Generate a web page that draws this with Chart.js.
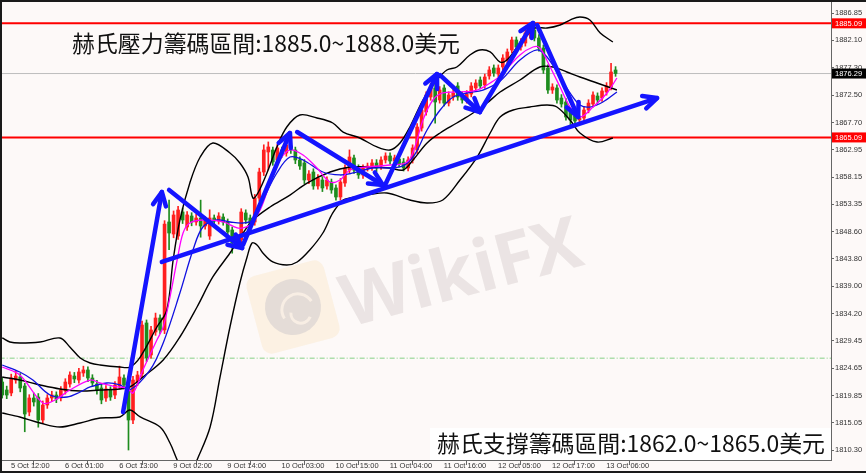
<!DOCTYPE html>
<html><head><meta charset="utf-8">
<script src="https://cdn.jsdelivr.net/npm/chart.js@4.4.1/dist/chart.umd.min.js"></script>
<style>
html,body{margin:0;padding:0;background:#fdf9f8;overflow:hidden;}
#wrap{position:relative;width:866px;height:473px;}
</style></head><body>
<div id="wrap"><canvas id="c"></canvas></div>
<script>
// ---------- data ----------
const xTickIdx = [1,13,25,37,49,61,73,85,97,109,121,133];
const xTickLabels = ['5 Oct 12:00','6 Oct 01:00','6 Oct 13:00','9 Oct 02:00','9 Oct 14:00','10 Oct 03:00','10 Oct 15:00','11 Oct 04:00','11 Oct 16:00','12 Oct 05:00','12 Oct 17:00','13 Oct 06:00'];
const yTickValues = [1886.85,1882.10,1877.30,1872.50,1867.70,1862.95,1858.15,1853.35,1848.60,1843.80,1839.00,1834.20,1829.45,1824.65,1819.85,1815.05,1810.30];

const candleOpen = [1822.22,1820.82,1820.30,1822.57,1823.10,1821.52,1816.96,1819.42,1819.59,1815.56,
1818.19,1819.42,1819.94,1819.42,1820.65,1821.87,1823.27,1822.57,1823.80,1824.33,
1822.92,1821.87,1821.17,1819.42,1820.82,1819.94,1821.52,1822.92,1821.70,1815.56,
1822.22,1823.63,1832.57,1826.96,1830.99,1833.44,1831.34,1850.27,1848.16,1847.81,
1852.02,1849.39,1851.32,1850.27,1850.97,1849.57,1847.81,1850.97,1850.44,1851.14,
1850.27,1848.87,1846.76,1847.11,1851.85,1850.97,1850.27,1854.47,1859.03,1862.54,
1862.89,1861.14,1862.89,1862.36,1863.59,1862.89,1861.14,1860.61,1857.63,1859.03,
1856.58,1857.63,1856.58,1857.28,1856.23,1854.65,1857.10,1859.38,1861.49,1859.73,
1858.51,1859.73,1859.91,1860.61,1860.08,1861.14,1861.84,1860.96,1861.31,1860.79,
1859.73,1861.14,1862.89,1866.74,1869.55,1872.18,1873.76,1871.65,1873.76,1871.12,
1872.18,1874.11,1872.53,1871.65,1872.70,1873.76,1875.16,1874.28,1875.86,1877.26,
1876.21,1877.44,1878.66,1880.42,1882.17,1880.94,1881.64,1883.05,1883.92,1882.52,
1880.77,1877.26,1873.40,1873.76,1872.00,1871.30,1869.55,1868.85,1868.15,1868.49,
1869.90,1870.95,1872.35,1872.00,1873.05,1873.93,1876.91];
const candleHigh = [1823.0,1821.5,1823.6,1824.2,1823.7,1822.0,1820.0,1820.3,1820.2,1818.9,
1820.0,1820.6,1820.5,1821.4,1822.8,1824.0,1823.9,1824.6,1825.0,1824.9,
1823.5,1822.5,1821.8,1821.6,1821.4,1822.3,1825.0,1823.5,1822.3,1823.2,
1824.1,1832.9,1833.1,1832.0,1834.3,1834.0,1850.5,1854.1,1852.2,1853.0,
1852.7,1852.1,1851.9,1851.6,1854.1,1851.2,1852.4,1851.5,1851.9,1851.7,
1850.8,1849.4,1848.0,1852.6,1852.4,1851.5,1855.1,1859.7,1863.8,1864.3,
1863.4,1863.9,1863.4,1864.6,1864.2,1863.4,1861.7,1861.2,1859.3,1859.6,
1858.6,1858.2,1858.2,1857.8,1856.8,1857.9,1860.3,1862.9,1862.0,1860.3,
1860.3,1860.6,1861.2,1861.2,1861.7,1862.4,1862.4,1862.0,1861.9,1861.4,
1861.7,1863.8,1867.5,1870.5,1873.1,1874.6,1874.3,1874.0,1874.3,1873.1,
1873.5,1874.7,1873.1,1873.3,1874.7,1875.2,1875.7,1876.2,1877.5,1877.8,
1877.8,1879.6,1880.6,1882.7,1882.7,1882.4,1884.0,1884.8,1885.2,1883.1,
1881.3,1877.8,1874.5,1874.3,1872.6,1871.9,1870.1,1869.4,1869.0,1870.5,
1871.7,1873.1,1872.9,1873.8,1874.7,1878.1,1877.5];
const candleLow = [1819.4,1819.3,1819.8,1822.0,1820.5,1813.5,1816.3,1818.0,1814.3,1815.0,
1817.6,1818.8,1818.6,1818.9,1820.1,1821.3,1822.1,1822.0,1823.2,1822.3,
1821.4,1820.1,1818.4,1818.8,1819.0,1819.3,1821.0,1821.0,1810.3,1814.9,
1821.6,1823.0,1825.8,1826.4,1830.4,1830.7,1830.7,1845.4,1847.5,1847.2,
1850.0,1848.8,1849.6,1849.7,1847.6,1849.0,1847.2,1849.9,1849.9,1849.7,
1847.9,1844.8,1846.1,1846.5,1850.0,1849.2,1849.7,1853.9,1858.4,1859.4,
1860.2,1860.6,1861.6,1861.8,1862.3,1860.5,1859.5,1857.0,1857.0,1856.0,
1856.0,1855.6,1856.0,1855.3,1854.1,1854.1,1856.5,1858.8,1858.8,1857.9,
1857.9,1859.2,1859.3,1859.1,1859.5,1860.6,1860.4,1860.4,1859.9,1859.2,
1859.2,1860.6,1862.3,1866.2,1869.0,1871.6,1867.6,1871.1,1870.6,1870.6,
1871.6,1871.6,1871.1,1871.1,1872.2,1873.2,1873.6,1873.7,1875.3,1875.8,
1875.7,1876.9,1878.1,1879.9,1880.4,1880.4,1881.1,1882.5,1882.0,1880.2,
1876.3,1872.8,1872.8,1871.1,1870.4,1868.1,1867.3,1867.4,1867.6,1867.9,
1869.4,1870.4,1871.1,1871.4,1872.5,1873.4,1875.8];
const candleClose = [1819.94,1819.94,1822.92,1823.27,1821.17,1816.61,1819.42,1818.72,1815.56,1818.19,
1819.42,1819.94,1819.24,1820.82,1822.22,1823.45,1822.75,1823.98,1824.33,1822.92,
1822.05,1820.82,1819.07,1821.00,1819.59,1821.70,1823.10,1821.70,1815.56,1822.57,
1823.45,1832.21,1826.43,1831.34,1833.44,1831.34,1849.90,1848.34,1851.50,1852.37,
1850.62,1851.50,1850.27,1850.97,1849.57,1850.62,1850.97,1850.44,1851.32,1850.27,
1848.52,1846.59,1847.46,1852.02,1850.62,1849.74,1854.47,1859.03,1862.89,1863.42,
1860.79,1863.24,1862.19,1863.77,1862.89,1861.14,1860.08,1857.63,1858.68,1856.58,
1857.98,1856.23,1857.63,1855.88,1854.65,1857.28,1859.73,1861.66,1859.38,1858.51,
1859.73,1860.08,1860.61,1859.73,1861.14,1861.84,1860.96,1861.49,1860.43,1859.73,
1861.14,1863.24,1866.92,1869.90,1872.53,1873.93,1871.30,1873.40,1871.12,1872.53,
1872.88,1872.18,1871.65,1872.70,1874.11,1874.63,1874.11,1875.68,1876.91,1876.38,
1877.26,1879.01,1880.07,1882.17,1880.94,1881.82,1883.40,1884.27,1882.52,1880.77,
1876.91,1873.40,1873.93,1871.65,1870.95,1868.67,1868.15,1867.97,1868.49,1869.90,
1871.12,1872.53,1871.65,1873.23,1874.11,1876.56,1876.29];

// indicator lines: [bar index, price]
const bandUpper = [[0,1829.94],[1.7,1829.24],[3.9,1829.06],[8.4,1829.24],[12.8,1829.94],[15.0,1828.36],[17.3,1826.43],[19.5,1825.55],[21.7,1825.20],[26.1,1824.85],[28.3,1824.85],[30.6,1826.60],[34.3,1831.86],[36.5,1834.84],[37.9,1843.61],[39.4,1850.62],[41.6,1857.10],[43.9,1861.66],[46.7,1864.12],[50.5,1862.36],[52.7,1860.61],[54.5,1858.16],[55.6,1854.47],[56.7,1855.35],[58.7,1858.86],[60.9,1863.42],[63.1,1866.92],[66.0,1869.02],[69.8,1868.50],[73.3,1867.62],[75.6,1866.04],[79.3,1864.99],[83.1,1863.42],[86.0,1862.89],[88.2,1864.12],[90.4,1866.92],[93.3,1871.65],[96.4,1875.16],[98.6,1876.91],[100.8,1877.44],[103.7,1879.54],[105.9,1880.42],[108.2,1880.07],[110.4,1878.31],[111.9,1878.66],[114.2,1880.94],[116.4,1883.05],[118.1,1884.27],[120.8,1884.27],[123.7,1884.80],[125.9,1885.67],[128.1,1886.20],[130.3,1885.67],[132.6,1883.40],[135.4,1881.82]];
const bandMiddle = [[0,1823.10],[3.9,1822.57],[8.4,1821.70],[12.8,1821.00],[17.3,1820.65],[21.7,1820.82],[26.1,1821.00],[28.3,1821.35],[31.2,1823.10],[35.7,1826.08],[39.4,1830.11],[43.2,1835.37],[46.7,1840.63],[50.5,1844.83],[53.4,1848.34],[55.6,1850.62],[59.4,1852.90],[63.8,1854.99],[67.6,1857.10],[72.7,1859.03],[77.1,1859.91],[80.9,1859.91],[86.0,1859.73],[88.9,1859.38],[91.1,1861.14],[94.2,1864.12],[97.1,1865.87],[100.8,1867.62],[104.4,1869.37],[107.5,1871.12],[110.4,1873.05],[114.8,1875.16],[119.2,1877.44],[122.1,1877.44],[125.2,1876.56],[128.1,1875.68],[131.9,1874.63],[136.3,1873.40]];
const bandLower = [[0,1816.79],[3.9,1816.09],[8.4,1815.04],[12.8,1814.33],[17.3,1815.04],[21.7,1815.91],[26.1,1816.09],[28.3,1817.31],[30.6,1816.09],[35.0,1814.33],[37.2,1811.53],[38.8,1808.55],[40.1,1806.45],[41.6,1805.75],[43.2,1808.55],[46.1,1814.33],[48.3,1823.10],[50.5,1831.86],[52.7,1839.58],[54.3,1844.13],[55.4,1846.59],[56.5,1846.24],[57.8,1844.83],[60.0,1843.26],[63.1,1842.73],[65.4,1843.26],[68.2,1845.36],[71.1,1848.34],[73.3,1851.85],[75.6,1854.12],[77.1,1854.47],[80.9,1855.00],[85.3,1855.35],[90.4,1854.12],[94.2,1853.60],[97.7,1854.12],[101.5,1857.63],[105.3,1861.66],[108.2,1865.87],[110.4,1868.67],[113.3,1869.90],[117.0,1870.42],[120.8,1870.77],[123.0,1870.42],[125.9,1868.15],[128.1,1865.87],[131.9,1864.29],[135.4,1864.99]];
const maFast = [[0,1824.85],[3.9,1823.45],[9.0,1818.54],[11.7,1819.07],[15.0,1820.82],[19.5,1822.57],[21.7,1822.05],[25.5,1821.35],[27.7,1821.17],[29.0,1820.30],[31.2,1824.33],[34.3,1829.58],[35.7,1831.86],[37.2,1837.12],[38.8,1843.61],[40.1,1848.34],[41.6,1850.09],[44.5,1850.62],[49.0,1850.27],[52.1,1849.22],[53.4,1849.22],[54.9,1849.74],[57.2,1852.37],[59.4,1857.10],[61.6,1861.14],[63.8,1862.89],[66.7,1862.01],[69.8,1859.73],[72.7,1857.28],[74.9,1857.63],[77.1,1859.38],[80.9,1859.91],[86.0,1860.26],[89.8,1860.79],[91.5,1863.42],[93.3,1868.15],[95.5,1871.65],[97.7,1872.88],[101.5,1873.05],[105.3,1873.40],[108.2,1874.63],[110.4,1875.86],[114.8,1879.54],[117.7,1880.94],[119.2,1880.77],[121.5,1877.44],[123.7,1873.93],[125.9,1870.42],[128.1,1868.67],[131.0,1870.42],[134.1,1872.88],[136.3,1875.51]];
const maSlow = [[0,1825.20],[3.9,1823.98],[6.8,1822.57],[10.6,1819.94],[14.4,1819.59],[17.3,1820.47],[19.5,1821.35],[23.2,1822.05],[26.1,1821.70],[28.3,1820.82],[32.8,1824.33],[35.7,1829.06],[39.4,1837.82],[42.3,1845.36],[44.5,1849.39],[47.6,1850.62],[50.5,1850.27],[53.4,1850.09],[55.6,1850.62],[57.8,1854.12],[60.9,1858.86],[63.8,1861.66],[66.7,1861.14],[71.1,1859.03],[74.9,1858.51],[77.8,1858.86],[82.2,1859.73],[88.2,1859.91],[91.1,1861.66],[94.2,1866.39],[97.1,1869.90],[100.0,1872.18],[103.1,1872.88],[106.6,1873.40],[110.4,1874.98],[114.8,1878.66],[118.6,1880.42],[120.8,1879.19],[123.7,1875.68],[125.9,1872.88],[128.1,1870.77],[130.3,1870.42],[133.2,1871.30],[136.3,1873.05]];

// annotation arrows: start / end as [bar index, price]
const arrowFrom = [[26.8,1816.96],[37.0,1855.88],[53.4,1846.24],[65.4,1866.04],[84.9,1856.75],[97.1,1876.03],[105.9,1869.55],[118.6,1884.80],[35.4,1843.26]];
const arrowTo   = [[35.4,1855.53],[53.2,1845.71],[63.8,1865.87],[84.4,1856.75],[96.4,1876.21],[105.9,1869.55],[117.7,1885.15],[127.7,1868.67],[145.2,1872.00]];

const resistanceLevel = 1885.09;
const supportLevel = 1865.09;
const lastPrice = 1876.29;
const dashLevel = 1826.4;
const topText = '赫氏壓力籌碼區間:1885.0~1888.0美元';
const bottomText = '赫氏支撐籌碼區間:1862.0~1865.0美元';

// ---------- styles ----------
const UP = '#ff1f1f', DOWN = '#1e8c1e', ARROW = '#1414ff';
const BG = '#fdf9f8';
const AX_FONT = {family:'"Liberation Sans", Arial, sans-serif', size:7.5};

const upDown = candleOpen.map((o,i)=> candleClose[i] >= o ? UP : DOWN);
const toXY = arr => arr.map(p=>({x:p[0], y:p[1]}));
const hline = (lvl,color,w,dash,order)=>({type:'line', data:[{x:-5,y:lvl},{x:200,y:lvl}], borderColor:color, borderWidth:w, borderDash:dash||[], pointRadius:0, order});
const indLine = (arr,color,w,order)=>({type:'line', data:toXY(arr), borderColor:color, borderWidth:w, pointRadius:0, tension:0.35, fill:false, order});

const datasets = [
  hline(dashLevel,'#86d086',1,[5,2,1,2],20),
  hline(lastPrice,'#bdbdbd',1,[],20),
  hline(resistanceLevel,'#ff0000',2,[],19),
  hline(supportLevel,'#ff0000',2,[],19),
  {type:'bar', data:candleOpen.map((o,i)=>({x:i,y:[candleLow[i],candleHigh[i]]})), backgroundColor:upDown, barThickness:1, grouped:false, order:15},
  {type:'bar', data:candleOpen.map((o,i)=>({x:i,y:[o,candleClose[i]]})), backgroundColor:upDown, barThickness:3, minBarLength:1, grouped:false, order:14},
  indLine(bandUpper,'#000000',1.4,10),
  indLine(bandMiddle,'#000000',1.4,10),
  indLine(bandLower,'#000000',1.4,10),
  indLine(maSlow,'#1010e0',1.3,9),
  indLine(maFast,'#ff00ff',1.3,8),
];
arrowFrom.forEach((f,k)=>{
  datasets.push({type:'line', data:[{x:f[0],y:f[1]},{x:arrowTo[k][0],y:arrowTo[k][1]}], borderColor:ARROW, borderWidth:4.5, pointRadius:0, borderCapStyle:'round', order:1});
});

function fitFont(ctx, text, targetW, family, weight){
  let size = 22;
  ctx.font = `${weight||''} ${size}px ${family}`;
  const w = ctx.measureText(text).width;
  size = size * targetW / w;
  return `${weight||''} ${size.toFixed(2)}px ${family}`;
}

const deco = {
  id:'deco',
  beforeDraw(chart){
    const c = chart.ctx;
    c.save(); c.fillStyle = BG; c.fillRect(0,0,chart.width,chart.height); c.restore();
  },
  beforeDatasetsDraw(chart){
    const c = chart.ctx;
    // watermark logo
    c.save();
    c.translate(293,307); c.rotate(-0.26);
    c.fillStyle = 'rgba(250,226,190,0.35)';
    c.beginPath(); if (c.roundRect) c.roundRect(-40,-40,80,80,10); else c.rect(-40,-40,80,80); c.fill();
    c.fillStyle = 'rgba(200,195,200,0.45)';
    c.beginPath(); c.arc(0,0,28,0,Math.PI*2); c.fill();
    c.strokeStyle = 'rgba(250,240,230,0.9)'; c.lineWidth = 3;
    c.beginPath(); c.arc(4,4,16,Math.PI*0.9,Math.PI*1.9); c.stroke();
    c.beginPath(); c.arc(6,8,10,Math.PI*0.2,Math.PI*1.1); c.stroke();
    c.restore();
    // watermark text
    c.save();
    c.translate(462,276); c.rotate(-0.258);
    c.font = 'bold 72px "Open Sans", "DejaVu Sans", sans-serif';
    c.fillStyle = 'rgba(205,195,195,0.38)';
    c.textAlign = 'center'; c.textBaseline = 'middle';
    c.fillText('WikiFX',0,0);
    c.restore();
  },
  afterDatasetsDraw(chart){
    const c = chart.ctx, xs = chart.scales.x, ys = chart.scales.y;
    c.save();
    c.strokeStyle = ARROW; c.lineWidth = 4.5; c.lineCap = 'round'; c.lineJoin = 'round';
    arrowFrom.forEach((f,k)=>{
      const x0 = xs.getPixelForValue(f[0]), y0 = ys.getPixelForValue(f[1]);
      const x1 = xs.getPixelForValue(arrowTo[k][0]), y1 = ys.getPixelForValue(arrowTo[k][1]);
      const a = Math.atan2(y1-y0, x1-x0), L = 15, s = 0.45;
      c.beginPath();
      c.moveTo(x1 - L*Math.cos(a-s), y1 - L*Math.sin(a-s));
      c.lineTo(x1, y1);
      c.lineTo(x1 - L*Math.cos(a+s), y1 - L*Math.sin(a+s));
      c.stroke();
    });
    c.restore();
  },
  afterDraw(chart){
    const c = chart.ctx, ys = chart.scales.y, area = chart.chartArea;
    // price tags
    c.save();
    c.font = `${AX_FONT.size}px ${AX_FONT.family}`;
    c.textBaseline = 'middle'; c.textAlign = 'left';
    [[resistanceLevel,'#ff0000'],[lastPrice,'#000000'],[supportLevel,'#ff0000']].forEach(([v,col])=>{
      const y = ys.getPixelForValue(v);
      c.fillStyle = col; c.fillRect(area.right+1, y-5, 34, 10);
      c.fillStyle = '#ffffff'; c.fillText(v.toFixed(2), area.right+4, y+0.5);
    });
    c.restore();
    // texts
    const fam = '"Noto Sans CJK TC", "Noto Sans CJK SC", sans-serif';
    c.save();
    c.fillStyle = '#ffffff';
    c.fillRect(430, 428, area.right-430, area.bottom-428);
    c.fillStyle = '#111111'; c.textBaseline = 'middle'; c.textAlign = 'left';
    c.font = fitFont(c, topText, 388, fam);
    c.fillText(topText, 72, 43);
    c.font = fitFont(c, bottomText, 388, fam);
    c.fillText(bottomText, 437, 443);
    c.restore();
    // frame
    c.save();
    c.fillStyle = '#1a1a1a';
    c.fillRect(0,0,chart.width,2);
    c.fillRect(0,0,2,chart.height);
    c.fillRect(0,chart.height-2,chart.width,2);
    c.restore();
  }
};

new Chart(document.getElementById('c'), {
  type:'bar',
  data:{datasets},
  plugins:[deco],
  options:{
    responsive:true, maintainAspectRatio:false, animation:false,
    layout:{padding:0},
    plugins:{legend:{display:false}, tooltip:{enabled:false}},
    scales:{
      x:{type:'linear', min:-0.49, max:183.77, offset:false, position:'bottom',
        afterBuildTicks:s=>{ s.ticks = xTickIdx.map(v=>({value:v})); },
        afterFit:s=>{ s.height = 13; s.paddingLeft = 0; s.paddingRight = 0; },
        ticks:{autoSkip:false, maxRotation:0, minRotation:0, align:'start', padding:-4, font:AX_FONT, color:'#333',
          callback:(v,i)=>'  '+xTickLabels[i]},
        grid:{drawOnChartArea:false, drawTicks:true, tickLength:5, color:'#666'},
        border:{display:true, color:'#666'}},
      y:{type:'linear', position:'right', min:1808.55, max:1889.18,
        afterBuildTicks:s=>{ s.ticks = yTickValues.map(v=>({value:v})); },
        afterFit:s=>{ s.width = 35; s.paddingTop = 0; s.paddingBottom = 0; },
        ticks:{padding:1, font:AX_FONT, color:'#333', autoSkip:false, callback:v=>Number(v).toFixed(2)},
        grid:{drawOnChartArea:false, drawTicks:true, tickLength:3, color:'#666'},
        border:{display:true, color:'#666'}}
    }
  }
});
</script>
</body></html>
